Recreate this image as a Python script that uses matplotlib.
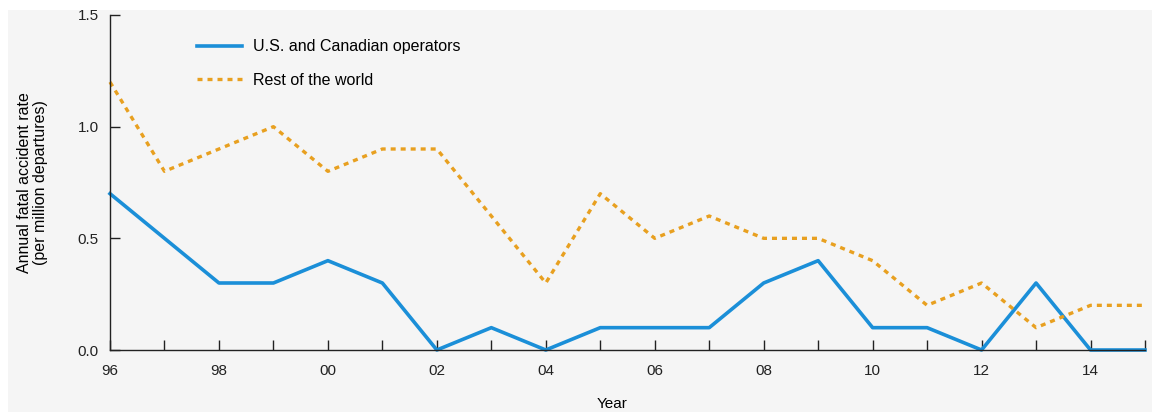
import matplotlib.pyplot as plt
from matplotlib.patches import Rectangle

years = list(range(1996, 2016))
us_canada = [0.7, 0.5, 0.3, 0.3, 0.4, 0.3, 0.0, 0.1, 0.0, 0.1,
             0.1, 0.1, 0.3, 0.4, 0.1, 0.1, 0.0, 0.3, 0.0, 0.0]
rest_world = [1.2, 0.8, 0.9, 1.0, 0.8, 0.9, 0.9, 0.6, 0.3, 0.7,
              0.5, 0.6, 0.5, 0.5, 0.4, 0.2, 0.3, 0.1, 0.2, 0.2]
tick_years = [1996, 1998, 2000, 2002, 2004, 2006, 2008, 2010, 2012, 2014]
tick_labels = ['96', '98', '00', '02', '04', '06', '08', '10', '12', '14']

plt.rcParams['font.family'] = ['Liberation Sans', 'DejaVu Sans']

fig = plt.figure(figsize=(11.52, 4.12), dpi=100)
fig.patch.set_facecolor('white')
# grey panel behind the chart
fig.patches.append(Rectangle((8 / 1152, 0), 1, 1 - 10 / 412, transform=fig.transFigure,
                             facecolor='#f5f5f5', edgecolor='none', zorder=-10))

ax = fig.add_axes([110 / 1152, 1 - 350 / 412, 1035 / 1152, 335 / 412])
ax.set_facecolor('none')

ax.plot(years, us_canada, color='#1b8fd8', lw=2.6, label='U.S. and Canadian operators',
        clip_on=False)
ax.plot(years, rest_world, color='#e8a020', lw=2.4, ls=(0, (1.5, 1.5)),
        label='Rest of the world', clip_on=False)

ax.set_xlim(1996, 2015)
ax.set_ylim(0, 1.5)
ax.set_yticks([0, 0.5, 1.0, 1.5])
ax.set_yticklabels(['0.0', '0.5', '1.0', '1.5'])
ax.set_xticks(range(1996, 2016))
ax.set_xticklabels([tick_labels[tick_years.index(y)] if y in tick_years else '' for y in years])

for s in ['top', 'right']:
    ax.spines[s].set_visible(False)
for s in ['left', 'bottom']:
    ax.spines[s].set_linewidth(1.0)
    ax.spines[s].set_color('#222222')

ax.tick_params(direction='in', length=7, width=1, labelsize=11, colors='#222222')
ax.tick_params(axis='x', pad=10)
ax.tick_params(axis='y', pad=8)

ax.set_xlabel('Year', fontsize=11)
ax.xaxis.set_label_coords(0.485, -0.14)
ax.set_ylabel('Annual fatal accident rate\n(per million departures)', fontsize=11.5,
              linespacing=1.1)
ax.yaxis.set_label_coords(-0.06, 0.5)

ax.legend(loc='upper left', bbox_to_anchor=(0.07, 0.97), frameon=False, fontsize=11.5,
          handlelength=2.8, handletextpad=0.7, labelspacing=1.15)

plt.savefig('out.png', dpi=100, facecolor=fig.get_facecolor())
